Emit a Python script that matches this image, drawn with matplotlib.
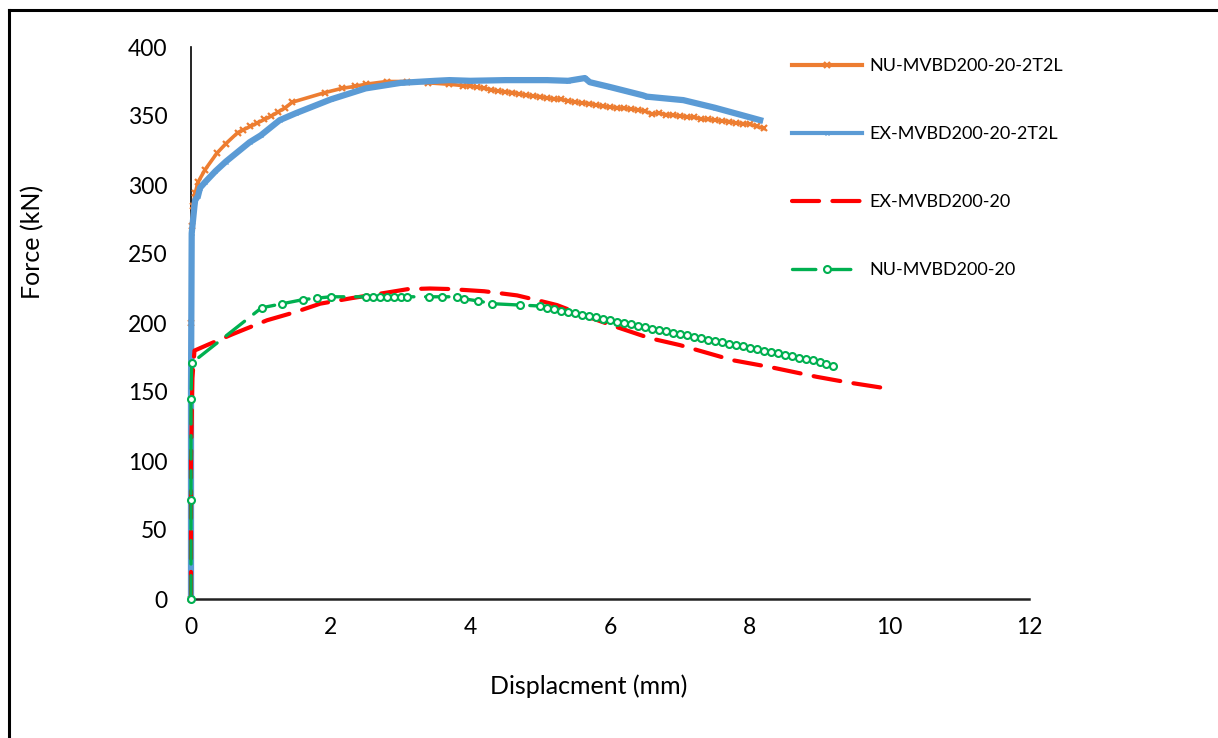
import matplotlib.pyplot as plt
from matplotlib.lines import Line2D

plt.rcParams['font.family'] = ['Lato', 'DejaVu Sans']

# NU-MVBD200-20-2T2L (orange)
nu_2t2l_x = [0, 0, 0.01, 0.03, 0.06, 0.1, 0.2, 0.37, 0.5, 0.67, 0.75, 0.85, 0.95, 1.05,
             1.15, 1.25, 1.35, 1.45, 1.92, 2.16, 2.35, 2.5, 2.8, 3.1, 3.4, 3.7,
             3.9, 4.0, 4.1, 4.2, 4.3, 4.4, 4.5, 4.6, 4.7, 4.8, 4.9, 5.0, 5.1, 5.2, 5.3,
             5.4, 5.5, 5.6, 5.7, 5.8, 5.9, 6.0, 6.1, 6.2, 6.3, 6.4, 6.5, 6.6, 6.7, 6.8,
             6.9, 7.0, 7.1, 7.2, 7.3, 7.4, 7.5, 7.6, 7.7, 7.8, 7.9, 8.0, 8.1, 8.2]
nu_2t2l_y = [0, 200, 270, 285, 294, 302, 311, 323, 330, 338, 340, 342.5, 345, 347.5,
             350, 353, 356, 360, 367, 370, 371.5, 373, 375, 375, 374, 373,
             372, 371.5, 371, 370, 369, 368, 367.5, 367, 366, 365, 364.5, 364, 363, 362.5, 362,
             361, 360, 359.5, 359, 358, 357, 356.5, 356, 355.5, 355, 354.5, 353.5, 351.5, 352, 351,
             350.5, 350, 349.5, 349, 348, 347.5, 347, 346.5, 346, 345, 344.5, 344, 342.5, 341]

# EX-MVBD200-20-2T2L (blue)
ex_2t2l_x = [0, 0, 0.01, 0.02, 0.05, 0.06, 0.1, 0.13, 0.2, 0.35, 0.5, 0.84, 1.0, 1.27, 1.5,
             2.0, 2.5, 3.0, 3.5, 3.7, 4.0, 4.5, 5.1, 5.4, 5.64, 5.71, 6.0, 6.47, 6.53,
             7.05, 7.5, 8.15]
ex_2t2l_y = [0, 150, 265, 270, 285, 289, 292, 298, 302, 310, 317, 331, 336, 347, 352,
             362, 370, 374, 375.5, 376, 375.5, 376, 376, 375.5, 377.5, 374.5, 371, 365, 364,
             361.5, 356, 347]

# EX-MVBD200-20 (red dashed)
ex_x = [0, 0, 0.02, 0.05, 0.23, 0.6, 1.09, 1.5, 1.85, 2.3, 2.8, 3.1, 3.42, 3.71, 4.2,
        4.67, 5.0, 5.24, 5.6, 6.1, 6.57, 7.0, 7.76, 8.3, 8.96, 9.4, 9.91]
ex_y = [0, 100, 160, 180, 184, 192, 202, 208, 214, 218, 222, 224.5, 225, 224.6, 223,
        220, 216, 213, 206, 197, 189, 184, 173, 168, 161, 157, 153]

# NU-MVBD200-20 (green)
nu_x = [0, 0, 0, 0.01, 1.01, 1.31, 1.61, 1.8, 2.0, 2.5, 2.6, 2.7, 2.8, 2.9, 3.0, 3.1,
        3.41, 3.6, 3.81, 3.91, 4.11, 4.31, 4.71,
        5.0, 5.1, 5.2, 5.3, 5.4, 5.5, 5.6, 5.7, 5.8, 5.9, 6.0, 6.1, 6.2, 6.3, 6.4, 6.5,
        6.6, 6.7, 6.8, 6.9, 7.0, 7.1, 7.2, 7.3, 7.4, 7.5, 7.6, 7.7, 7.8, 7.9, 8.0, 8.1,
        8.2, 8.3, 8.4, 8.5, 8.6, 8.7, 8.8, 8.9, 9.0, 9.1, 9.2]
nu_y = [0, 72, 145, 171, 211, 214, 217, 218, 219, 219, 219, 219, 219, 219, 219, 219,
        219, 219, 219, 217.5, 216, 214, 213,
        212.3, 211.2, 210, 209, 208, 207, 206, 205, 204, 203, 202, 201, 200, 199, 198, 197,
        196, 195, 194, 193, 192, 191, 190, 189, 188, 187, 186, 185, 184, 183, 182, 181,
        180, 179, 178, 177, 176, 175, 174, 173, 171.5, 170, 168.5]

labels = ['NU-MVBD200-20-2T2L', 'EX-MVBD200-20-2T2L', 'EX-MVBD200-20', 'NU-MVBD200-20']

fig = plt.figure(figsize=(12.18, 7.38), dpi=100)
ax = fig.add_axes([191 / 1218, 1 - 599 / 738, (1029 - 191) / 1218, (599 - 47) / 738])

ax.plot(nu_2t2l_x, nu_2t2l_y, color='#ED7D31', lw=2.6, marker='x', ms=4.5, mew=1.6,
        label=labels[0], zorder=3, clip_on=False)
ax.plot(ex_2t2l_x, ex_2t2l_y, color='#5B9BD5', lw=4.5, marker='x', ms=2.5, mew=1,
        label=labels[1], zorder=4, clip_on=False)
ax.plot(ex_x, ex_y, color='#FF0000', lw=3, dashes=(6.5, 3.2), dash_capstyle='round',
        label=labels[2], zorder=5, clip_on=False)
ax.plot(nu_x, nu_y, color='#00B050', lw=2.4, dashes=(7, 3.5), dash_capstyle='round',
        marker='o', ms=5, mfc='white', mec='#00B050', mew=1.5,
        label=labels[3], zorder=6, clip_on=False)

ax.set_xlim(0, 12)
ax.set_ylim(0, 400)
ax.set_xticks(range(0, 13, 2))
ax.set_yticks(range(0, 401, 50))
ax.tick_params(length=0, labelsize=16.5)
ax.tick_params(axis='x', pad=13)
ax.tick_params(axis='y', pad=17)
for s in ['top', 'right']:
    ax.spines[s].set_visible(False)
ax.spines['left'].set_linewidth(1.2)
ax.spines['bottom'].set_linewidth(1.8)
ax.spines['bottom'].set_color('#222222')

ax.set_xlabel('Displacment (mm)', fontsize=18)
ax.xaxis.set_label_coords((589 - 191) / 838, (599 - 686) / 552)
ax.xaxis.label.set_va('center')
ax.set_ylabel('Force (kN)', fontsize=18)
ax.yaxis.set_label_coords((33 - 191) / 838, (599 - 242) / 552)
ax.yaxis.label.set_va('center')

leg = ax.legend(loc='upper left', bbox_to_anchor=(792 / 1218, 1 - 58 / 738),
                bbox_transform=fig.transFigure, frameon=False, fontsize=13,
                borderpad=0, borderaxespad=0,
                handlelength=3.9, handletextpad=0.4, labelspacing=2.88)
leg_lines = leg.get_lines()
leg_lines[0].set_linewidth(3)
leg_lines[1].set_linewidth(3)

# outer frame (top and left edges)
fig.add_artist(Line2D([9 / 1218, 1], [1 - 10 / 738, 1 - 10 / 738], color='black', lw=2.2))
fig.add_artist(Line2D([9 / 1218, 9 / 1218], [0, 1 - 10 / 738], color='black', lw=2.2))

fig.savefig('out.png', dpi=100)
